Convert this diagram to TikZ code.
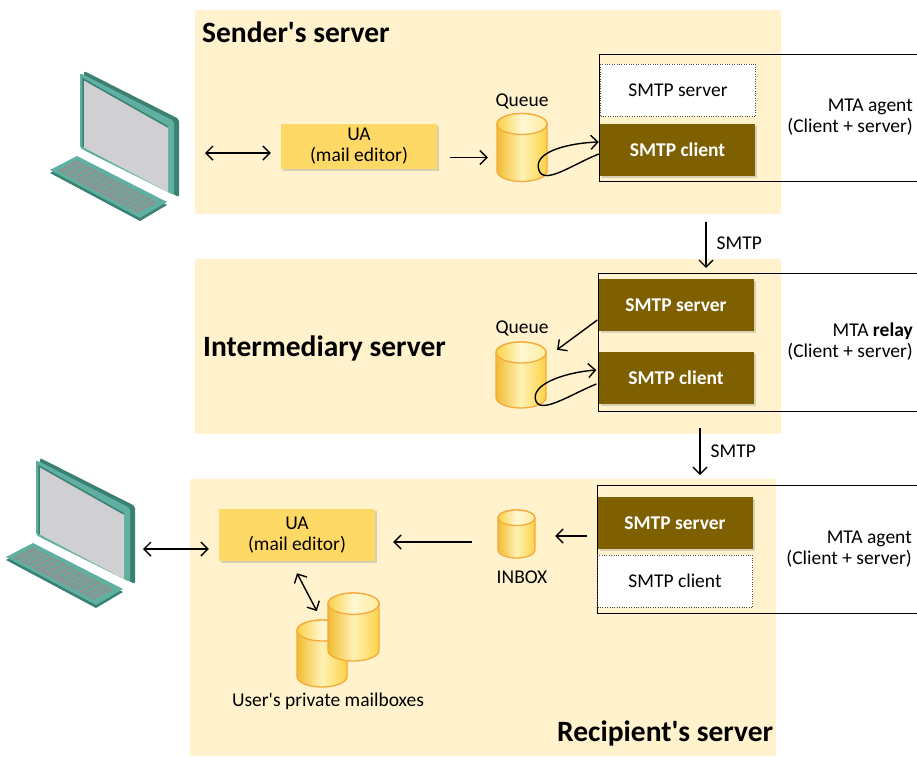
\documentclass[tikz,border=0pt]{standalone}
\usepackage{fontspec}
\setmainfont{Carlito}
\usepackage{xcolor}
\definecolor{srvpanel}{RGB}{255,242,204}
\definecolor{uayellow}{RGB}{255,217,102}
\definecolor{mtabrown}{RGB}{127,96,0}
\definecolor{dborange}{RGB}{245,170,60}
\definecolor{dbgold}{RGB}{242,188,50}
\definecolor{dblight}{RGB}{255,242,180}
\definecolor{dbyellow}{RGB}{252,210,70}
\definecolor{dbtop}{RGB}{255,236,160}
\definecolor{pcteal}{RGB}{95,176,160}
\definecolor{pcdark}{RGB}{58,128,115}
\definecolor{pcscreen}{RGB}{208,208,210}
\definecolor{pckey}{RGB}{145,145,145}
\usetikzlibrary{arrows.meta, shadows}

\tikzset{
  mtip/.tip={Straight Barb[length=7pt, width=14pt]},
  txt/.style={font=\fontsize{19.5}{21}\selectfont, inner sep=0pt},
  paneltitle/.style={font=\fontsize{29.5}{31}\selectfont\bfseries, inner sep=0pt},
  uabox/.style={txt, fill=uayellow, align=center, minimum width=156pt,
    drop shadow={shadow xshift=2pt, shadow yshift=-2pt, opacity=0.3}},
  agentbox/.style={txt, fill=mtabrown, text=white, font=\fontsize{19.5}{21}\selectfont\bfseries,
    minimum width=155pt, minimum height=52pt,
    drop shadow={shadow xshift=2pt, shadow yshift=-2pt, opacity=0.3}},
  idlebox/.style={txt, fill=white, draw=black!70, dotted, minimum width=155pt, minimum height=52pt},
  mtabox/.style={draw, line width=1.1pt, anchor=north west, inner sep=0pt},
  msgflow/.style={line width=1.4pt, -mtip},
  msgboth/.style={line width=1.4pt, mtip-mtip},
  % database cylinder: width, height
  pics/store/.style 2 args={code={
    \pgfmathsetmacro{\rw}{#1/2}
    \pgfmathsetmacro{\hh}{#2/2}
    \pgfmathsetmacro{\re}{0.21*#1}
    \shadedraw[left color=dbgold, right color=dbyellow, middle color=dblight,
      draw=dborange, line width=1.3pt]
      (-\rw,-\hh+\re) -- (-\rw,\hh-\re)
      arc[start angle=180, end angle=0, x radius=\rw, y radius=\re]
      -- (\rw,-\hh+\re)
      arc[start angle=0, end angle=-180, x radius=\rw, y radius=\re] -- cycle;
    \shadedraw[left color=dbyellow, right color=dbtop, middle color=dblight!60!white,
      draw=dborange, line width=1.3pt]
      (0,-\hh+\re) ellipse [x radius=\rw, y radius=\re];
    \node[inner sep=0pt, minimum width=#1pt, minimum height=#2pt] (-db) {};
  }},
  pics/computer/.style={code={
    % keyboard
    \fill[pcdark] (-30,100) -- (-3,86) -- (87,132) -- (60,148) -- cycle;
    \fill[pcteal] (-30,97) -- (-3,83) -- (87,129) -- (60,145) -- cycle;
    \foreach \i in {0,...,13} {
      \foreach \j in {1,...,4} {
        \pgfmathsetmacro{\ks}{0.05+\i*0.065}
        \pgfmathsetmacro{\kt}{0.12+\j*0.15}
        \fill[pckey] ({-30+90*\ks+27*\kt},{97+47*\ks-14.5*\kt})
          -- ++(4.3,2.3) -- ++(3,-1.6) -- ++(-4.3,-2.3) -- cycle;
      }
    }
    \foreach \i in {0,1,2,11,12,13} {
      \pgfmathsetmacro{\ks}{0.05+\i*0.065}
      \fill[pckey] ({-30+90*\ks+27*0.12},{97+47*\ks-14.5*0.12})
        -- ++(4.3,2.3) -- ++(3,-1.6) -- ++(-4.3,-2.3) -- cycle;
    }
    \fill[pckey] ({-30+90*0.245+27*0.12},{97+47*0.245-14.5*0.12})
      -- ++(45,23.5) -- ++(3,-1.6) -- ++(-45,-23.5) -- cycle;
    % monitor
    \fill[pcdark, rounded corners=2pt] (4,-2) -- (99,46) -- (99,124) -- (4,77) -- cycle;
    \fill[pcteal, rounded corners=2pt] (0,0) -- (94,48) -- (94,122) -- (0,75) -- cycle;
    \fill[pcscreen] (3,6) -- (88,54) -- (88,119) -- (3,74) -- cycle;
    \draw[pcdark, line width=1.5pt] (3,74) -- (3,6) -- (88,54);
  }},
}

\begin{document}
\begin{tikzpicture}[x=1pt, y=-1pt]
\useasboundingbox (0,0) rectangle (917,756);

% === Server panels ===
\fill[srvpanel] (195,10) rectangle (781,214);
\fill[srvpanel] (195,259) rectangle (781,434);
\fill[srvpanel] (190,479) rectangle (776,756);
\node[paneltitle, anchor=base west] (sendtitle) at (202,42) {Sender{\textquotesingle}s server};
\node[paneltitle, anchor=base west] (midtitle) at (203,356) {Intermediary server};
\node[paneltitle, anchor=base west] (rcpttitle) at (557,741) {Recipient{\textquotesingle}s server};

% === Sender's server ===
\pic at (80,73) {computer};
\coordinate (pc1port) at (205,153);
\node[uabox, minimum height=45pt] (ua1) at (359,146.5) {UA\\(mail editor)};
\pic (q1) at (522,147.5) {store={50}{68}};
\node[txt] (q1lbl) at (522,101) {Queue};
\node[mtabox, minimum width=322pt, minimum height=127pt] (mta1) at (599,54) {};
\node[idlebox] (sv1) at (678,90) {SMTP server};
\node[agentbox] (cl1) at (677.5,149.5) {SMTP client};
\node[txt, align=right, anchor=east] (mta1lbl) at (913,117) {MTA agent\\(Client + server)};

\draw[msgboth] (pc1port) -- ([shift={(-10,6.5)}]ua1.west);
\draw[msgflow] ([shift={(13,11)}]ua1.east) -- ([shift={(-9,10)}]q1-db.west);
\coordinate (loop1) at ([shift={(-9,19)}]q1-db.east);
\draw[msgflow] ([shift={(-1,4.5)}]cl1.west) .. controls +(-28,11) and +(2,22) .. (loop1)
  .. controls +(-1,-16) and +(-28,1) .. ([shift={(-1,-7.5)}]cl1.west);

% === Intermediary server ===
\node[mtabox, minimum width=322pt, minimum height=138pt] (mta2) at (598,273) {};
\node[agentbox] (sv2) at (676,305) {SMTP server};
\node[agentbox] (cl2) at (676,377.5) {SMTP client};
\node[txt, align=right, anchor=east] (mta2lbl) at (913,342) {MTA \textbf{relay}\\(Client + server)};
\pic (q2) at (521,375) {store={50}{66}};
\node[txt] (q2lbl) at (522,328) {Queue};

\draw[msgflow] ([shift={(-1,15)}]sv2.west) -- ([shift={(36,8)}]q2-db.north);
\coordinate (loop2) at ([shift={(-11,23)}]q2-db.east);
\draw[msgflow] ([shift={(-2,6.5)}]cl2.west) .. controls +(-27,11) and +(2,19) .. (loop2)
  .. controls +(-1,-16) and +(-27,2) .. ([shift={(-2,-7.5)}]cl2.west);

% SMTP hop to the relay
\draw[msgflow] ([shift={(107,40)}]mta1.south west) -- node[txt, right=10pt, pos=0.45] (hop1) {SMTP}
  ([shift={(108,-5)}]mta2.north west);

% === Recipient's server ===
\node[mtabox, minimum width=323pt, minimum height=128pt] (mta3) at (597,485) {};
\node[agentbox] (sv3) at (675,523) {SMTP server};
\node[idlebox] (cl3) at (675,581) {SMTP client};
\node[txt, align=right, anchor=east] (mta3lbl) at (912,549) {MTA agent\\(Client + server)};
\pic (inbox) at (516.5,534) {store={37}{48}};
\node[txt] (inboxlbl) at (522,577) {INBOX};
\node[uabox, minimum height=52pt] (ua2) at (297,535) {UA\\(mail editor)};
\pic at (36,460) {computer};
\coordinate (pc2port) at (143,549);

% SMTP hop to the recipient
\draw[msgflow] ([shift={(102,16)}]mta2.south west) -- node[txt, right=10pt, pos=0.5] (hop2) {SMTP}
  ([shift={(103,-10)}]mta3.north west);

\draw[msgflow] ([shift={(-10,13)}]sv3.west) -- ([shift={(20,2)}]inbox-db.east);
\draw[msgflow] ([shift={(-26,8)}]inbox-db.west) -- ([shift={(18,7)}]ua2.east);
\draw[msgboth] (pc2port) -- ([shift={(-10,14)}]ua2.west);

% private mailboxes
\pic (mb1) at (322,653.5) {store={50}{67}};
\pic (mb2) at (353.5,627) {store={51}{68}};
\node[txt] (mblbl) at (328,701) {User{\textquotesingle}s private mailboxes};
\draw[msgboth] ([shift={(0,12)}]ua2.south) -- ([shift={(-11,-16)}]mb2-db.west);

\end{tikzpicture}
\end{document}
